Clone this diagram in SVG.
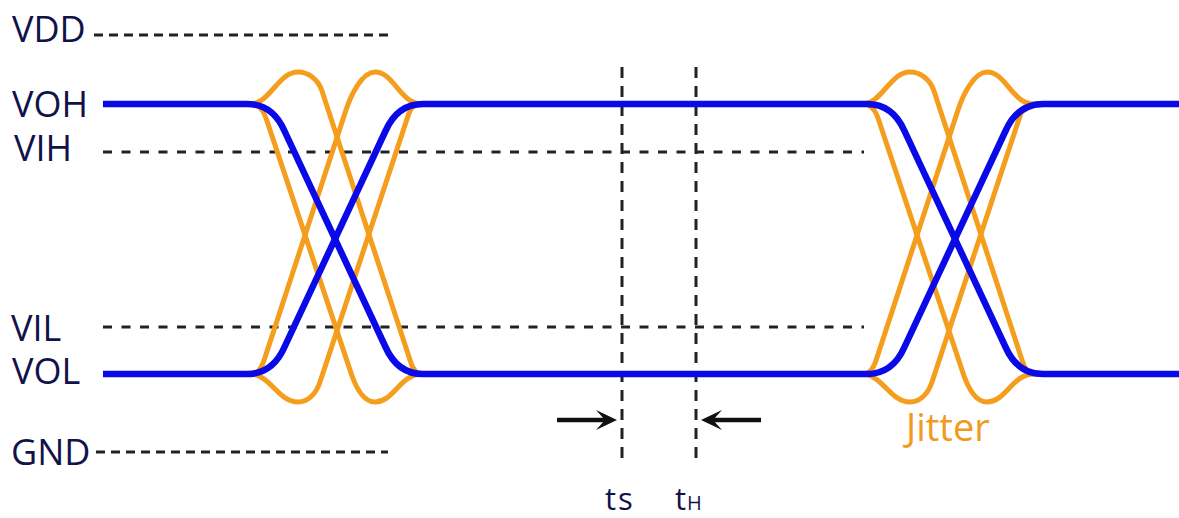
<svg xmlns="http://www.w3.org/2000/svg" width="1179" height="518" viewBox="0 0 1179 518">
<defs>
<style>
.hd{fill:none;stroke:#222;stroke-width:3;stroke-dasharray:9 9.5}
.rail{fill:none;stroke:#222;stroke-width:3;stroke-dasharray:9 6}
.vd{fill:none;stroke:#222;stroke-width:3;stroke-dasharray:11 8}
.blue{fill:none;stroke:#0a0ae8;stroke-width:6.5;stroke-linejoin:round}
.org{fill:none;stroke:#F59D1C;stroke-width:5;stroke-linejoin:round}
.arr{fill:none;stroke:#111;stroke-width:4.5}
.lbl{font-family:"Open Sans","Noto Sans",sans-serif;font-size:36px;fill:#12124a}
.tl{font-family:"Open Sans","Noto Sans",sans-serif;font-size:31px;fill:#12124a}
.jit{font-family:"Open Sans","Noto Sans",sans-serif;font-size:38px;fill:#F29A1F}
</style>
<marker id="ah" viewBox="0 0 22 22" refX="13" refY="11" markerWidth="22" markerHeight="22" orient="auto" markerUnits="userSpaceOnUse">
<path d="M0,1 L21,11 L0,21 L9,11 Z" fill="#111"/>
</marker>
<g id="jitterEye">
<path class="org" d="M-86,104 C-79,104 -74,107 -70,118 L14,370 C19,386 27,402 39,402 C58,402 64,374 86,374"/>
<path class="org" d="M-86,104 C-66,104 -58,72 -38,72 C-28,72 -18,79 -14,91 L74,360 C75.5,365 78,374 86,374"/>
<path class="org" d="M-86,374 C-79,374 -75,370 -71.5,359 L10,110 C15,95 26,72 39,72 C58,72 64,104 86,104"/>
<path class="org" d="M-86,374 C-66,374 -58,402 -38,402 C-28,402 -20,394 -16,382 L72,116 C75,107 78,104 86,104"/>
</g>
</defs>
<rect width="1179" height="518" fill="#fff"/>

<g id="levels">
<line class="rail" x1="94" y1="35" x2="388" y2="35"/>
<line class="hd" x1="103" y1="152" x2="864" y2="152"/>
<line class="hd" x1="103" y1="327" x2="864" y2="327"/>
<line class="rail" x1="96" y1="452" x2="388" y2="452"/>
<line class="vd" x1="622" y1="67" x2="622" y2="464"/>
<line class="vd" x1="696" y1="67" x2="696" y2="464"/>
</g>

<g id="jitter">
<use href="#jitterEye" transform="translate(336,0)"/>
<use href="#jitterEye" transform="translate(948,0)"/>
</g>

<g id="signals">
<path class="blue" d="M103,104 H247 C265,104 277,114 284.5,131 L385.5,347 C393,364 405,374 423,374 H867 C885,374 897,364 904.5,347 L1005.5,131 C1013,114 1025,104 1043,104 H1179"/>
<path class="blue" d="M103,374 H247 C265,374 277,364 284.5,347 L385.5,131 C393,114 405,104 423,104 H867 C885,104 897,114 904.5,131 L1005.5,347 C1013,364 1025,374 1043,374 H1179"/>
</g>

<g id="connectors">
<line class="arr" x1="557" y1="420" x2="609" y2="420" marker-end="url(#ah)"/>
<line class="arr" x1="761" y1="420" x2="709" y2="420" marker-end="url(#ah)"/>
</g>

<g id="labels">
<text class="lbl" x="12" y="42">VDD</text>
<text class="lbl" x="12" y="117">VOH</text>
<text class="lbl" x="14" y="161">VIH</text>
<text class="lbl" x="11" y="341">VIL</text>
<text class="lbl" x="12" y="384">VOL</text>
<text class="lbl" x="11" y="465">GND</text>
<text class="tl" x="605" y="510" letter-spacing="2">ts</text>
<text class="tl" x="675" y="510">t<tspan font-size="20" dx="1">H</tspan></text>
<text class="jit" x="906" y="441">Jitter</text>
</g>
</svg>
